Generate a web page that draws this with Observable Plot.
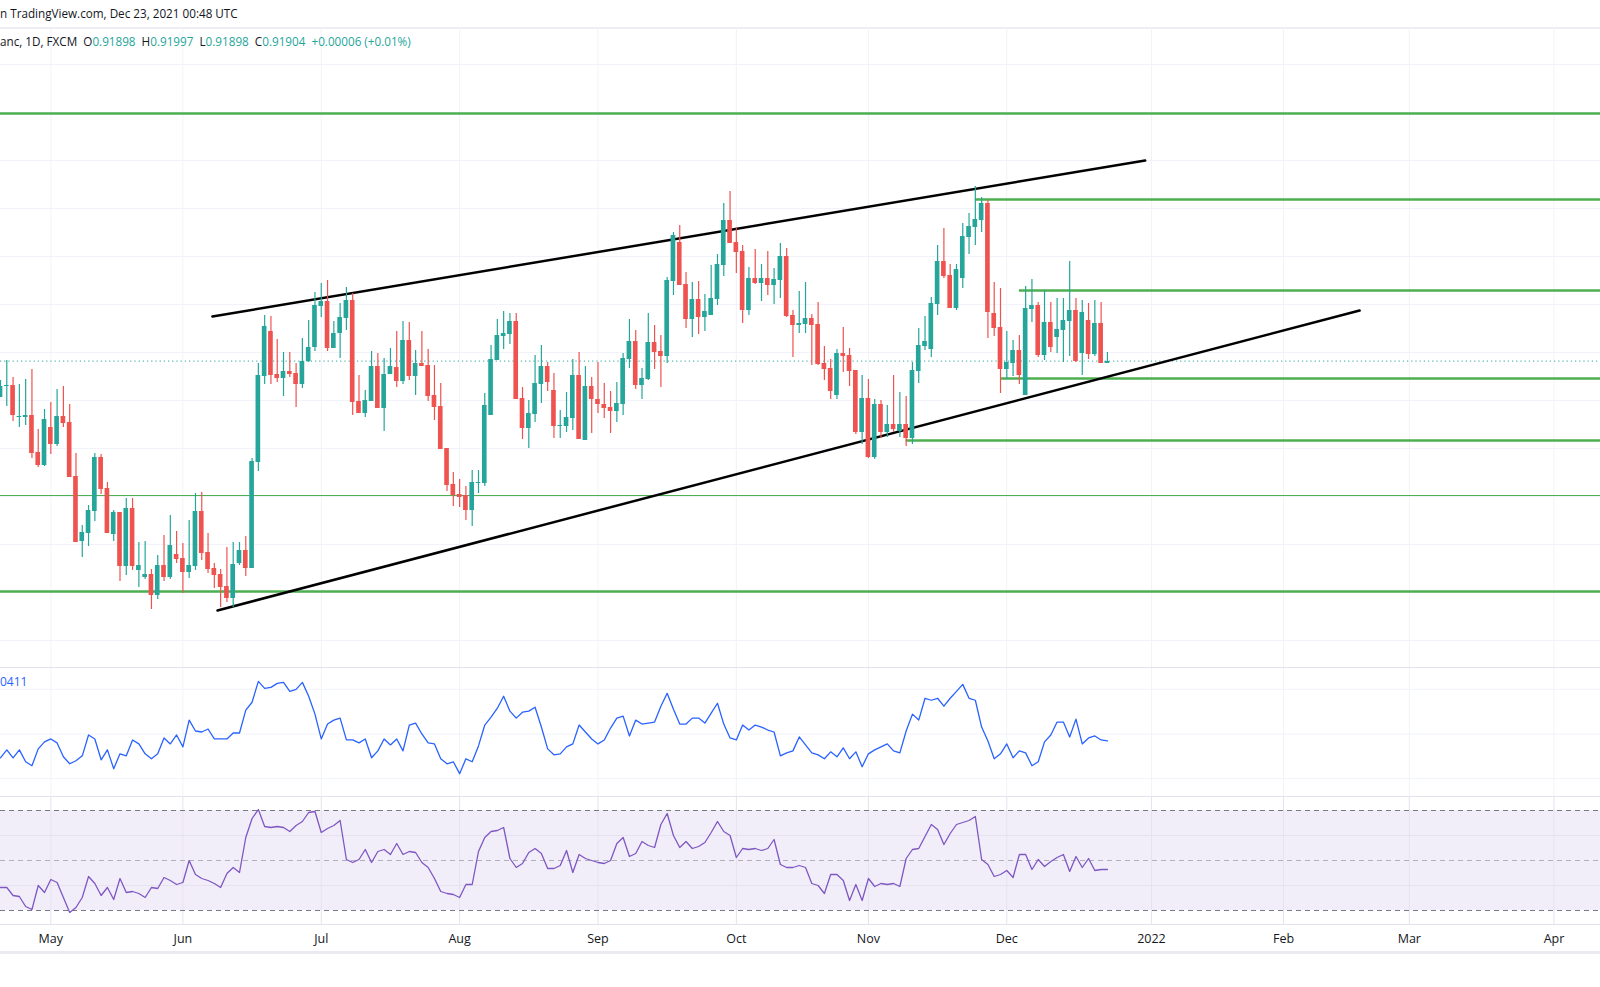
<!DOCTYPE html>
<html>
<head>
<meta charset="utf-8">
<script src="https://cdn.jsdelivr.net/npm/d3@7"></script>
<script src="https://cdn.jsdelivr.net/npm/@observablehq/plot@0.6"></script>
<style>
  body { margin: 0; background: #fff; font-family: "Open Sans", "DejaVu Sans", sans-serif; }
  #wrap { position: relative; width: 1600px; height: 987px; overflow: hidden; }
  .pane { position: absolute; left: 0; }
  .sep { position: absolute; left: 0; width: 1600px; height: 1px; background: #e0e3eb; }
  .hdr { position: absolute; left: 0; white-space: nowrap; font-size: 11.7px; color: #131722; }
  .v { color: #26a69a; }
</style>
</head>
<body>
<div id="wrap">
  <div class="hdr" style="top:5px;">n TradingView.com, Dec 23, 2021 00:48 UTC</div>
  <div class="sep" style="top:27px; height:2px; background:#eceef3"></div>
  <div class="hdr" style="top:33px; z-index:2">anc, 1D, FXCM&nbsp; O<span class="v">0.91898</span>&nbsp; H<span class="v">0.91997</span>&nbsp; L<span class="v">0.91898</span>&nbsp; C<span class="v">0.91904</span>&nbsp; <span class="v">+0.00006 (+0.01%)</span></div>
  <div id="main" class="pane" style="top:28px"></div>
  <div class="sep" style="top:667px"></div>
  <div id="atr" class="pane" style="top:668px"></div>
  <div class="hdr" style="top:673px; color:#2962ff; z-index:2; font-size:12px">0411</div>
  <div class="sep" style="top:796px"></div>
  <div id="rsi" class="pane" style="top:797px"></div>
  <div class="sep" style="top:924px"></div>
  <div id="axis" class="pane" style="top:925px"></div>
  <div class="sep" style="top:951px; height:3px; background:#e9ebf0"></div>
</div>
<script>
// USD/CHF daily, prices in pips (x 1e-4)
const open = [9154,9165,9166,9134,9134,9136,9099,9086,9124,9107, 9135,9129,9075,9010,9018,9040,9094,9063,9017,9039, 8985,9043,8981,8974,8977,8956,8986,8974,8997,8993, 8979,8985,9040,8999,8983,8977,8965,8953,8988,9001, 8983,9089,9175,9220,9177,9173,9180,9178,9167,9190, 9204,9245,9250,9203,9218,9233,9251,9150,9138,9150, 9185,9143,9177,9184,9170,9211,9175,9188,9186,9156, 9145,9103,9067,9057,9056,9041,9068,9068,9136,9191, 9215,9217,9230,9153,9123,9137,9167,9185,9161,9125, 9125,9133,9176,9111,9165,9152,9147,9144,9140,9147, 9192,9210,9166,9172,9209,9200,9195,9270,9309,9267, 9232,9252,9234,9236,9252,9286,9331,9309,9300,9241, 9273,9268,9273,9266,9271,9295,9236,9226,9227,9233, 9227,9188,9183,9156,9198,9196,9181,9119,9153,9094, 9147,9119,9127,9120,9127,9113,9180,9205,9202,9247, 9290,9276,9243,9273,9314,9324,9331,9348,9238,9224, 9182,9188,9201,9156,9242,9246,9196,9229,9214,9221, 9230,9241,9198,9231,9197,9228,9188];
const high = [9171,9191,9174,9167,9172,9182,9122,9142,9149,9162, 9165,9147,9098,9026,9046,9098,9097,9069,9041,9039, 9053,9053,9009,9010,8982,8996,9016,9036,9020,9008, 9031,9058,9059,9018,8988,8982,9004,9009,9009,9015, 9093,9188,9236,9235,9212,9199,9199,9188,9213,9231, 9259,9268,9271,9230,9248,9264,9258,9176,9161,9200, 9198,9193,9203,9220,9230,9229,9201,9220,9202,9186, 9168,9103,9079,9072,9065,9081,9081,9158,9206,9232, 9240,9238,9238,9164,9151,9196,9206,9189,9178,9141, 9159,9192,9199,9185,9174,9189,9168,9160,9169,9198, 9232,9221,9183,9238,9226,9216,9274,9319,9326,9279, 9269,9270,9257,9286,9297,9348,9360,9324,9306,9284, 9302,9287,9300,9283,9308,9303,9241,9260,9269,9237, 9249,9205,9192,9202,9224,9203,9181,9176,9172,9152, 9151,9146,9176,9159,9155,9189,9223,9235,9254,9306, 9323,9287,9287,9328,9338,9365,9354,9351,9269,9263, 9220,9211,9216,9265,9272,9249,9261,9249,9253,9253, 9290,9253,9251,9248,9251,9249,9199];
const low = [9154,9145,9130,9124,9126,9093,9084,9085,9097,9105, 9124,9074,9009,8994,9005,9030,9057,9018,9010,8970, 8976,8981,8964,8972,8942,8952,8970,8972,8988,8958, 8973,8981,8991,8978,8963,8944,8949,8944,8986,8975, 8983,9080,9167,9167,9169,9155,9174,9144,9163,9189, 9200,9234,9200,9203,9193,9221,9136,9138,9134,9150, 9143,9120,9177,9164,9167,9171,9156,9185,9150,9131, 9102,9060,9045,9044,9031,9025,9058,9065,9136,9191, 9202,9207,9152,9112,9103,9129,9148,9160,9113,9113, 9119,9121,9112,9111,9118,9138,9133,9118,9129,9136, 9183,9162,9152,9171,9182,9164,9188,9256,9266,9223, 9214,9217,9220,9236,9246,9275,9308,9278,9228,9236, 9267,9250,9256,9247,9253,9234,9194,9218,9218,9186, 9186,9171,9152,9152,9179,9165,9117,9107,9093,9092, 9113,9114,9119,9114,9105,9107,9168,9201,9194,9236, 9273,9243,9241,9263,9297,9306,9319,9213,9215,9158, 9172,9175,9167,9156,9229,9194,9191,9199,9198,9189, 9195,9189,9176,9192,9195,9188,9188];
const close = [9165,9166,9136,9135,9136,9098,9086,9132,9107,9135, 9128,9074,9009,9019,9041,9094,9062,9018,9039,8985, 9043,8985,8986,8977,8956,8986,8974,9006,8992,8979, 8986,9040,8998,8982,8976,8964,8953,8987,9001,8983, 9090,9176,9225,9176,9173,9180,9177,9167,9190,9204, 9246,9250,9203,9218,9234,9251,9149,9138,9151,9185, 9143,9177,9185,9170,9211,9175,9188,9185,9155,9144, 9102,9066,9056,9054,9041,9069,9069,9146,9192,9216, 9218,9230,9152,9123,9138,9168,9185,9169,9125,9126, 9134,9176,9112,9165,9152,9147,9143,9140,9148,9193, 9210,9166,9173,9209,9199,9195,9271,9316,9266,9232, 9252,9234,9240,9253,9287,9331,9308,9299,9241,9273, 9268,9273,9266,9272,9295,9235,9226,9228,9233,9226, 9187,9182,9160,9198,9195,9180,9119,9153,9094,9147, 9119,9127,9122,9127,9113,9181,9206,9210,9248,9290, 9275,9243,9282,9315,9325,9332,9348,9239,9223,9182, 9189,9201,9176,9243,9246,9196,9229,9204,9222,9231, 9241,9190,9239,9197,9228,9188,9190];

// ATR in units of 1e-5
const atr = [394,402,394,402,390,386,403,410,413,409, 395,388,391,396,417,413,392,402,383,398, 396,412,408,398,393,398,414,408,417,405, 432,421,420,423,413,413,413,419,419,442, 450,471,464,465,469,470,461,463,470,456, 438,413,428,432,434,412,412,409,413,394, 401,413,407,413,401,427,429,418,409,408, 393,388,390,378,393,390,406,427,435,444, 456,441,434,440,441,445,425,403,397, 398,405,408,427,420,413,408,412,424,434, 436,416,432,428,429,430,446,459,443,428, 428,434,434,429,439,449,428,414,412,427, 422,427,425,422,420,396,399,401,415,407, 399,397,393,400,395,404,393,400,385,398, 402,405,408,401,399,421,438,432,454,452, 454,446,454,461,468,454,452,425,411,393, 398,408,394,401,399,386,390,410,417,430, 430,415,433,408,414,416,412,411];

const rsi = [39.2,39.2,36,35.6,31.6,30.4,40,37.2,42.4,41.2, 35.2,29.2,31.2,35.2,43.6,40.8,36,39.2,34.4,42.8, 37.2,37.6,36.8,35.2,39.2,38.8,43.2,42,40.4,41.2, 50,44.4,42.8,42,40.8,39.2,44.8,47.2,45.2,59.2, 66.8,70.4,63.6,63.2,63.6,63.2,61.6,64,65.6,69.2, 69.6,61.2,62.8,64,66,50.4,49.2,50.4,54.4,49.2, 53.6,54.4,52.4,56.8,52.4,53.6,53.2,49.2,47.2,42.8, 37.6,36.8,36.4,35.2,40.4,40.4,53.6,59.2,61.6,62, 63.2,50.8,47.2,48.8,53.2,54.8,52.8,46.8,46.8, 48,54,45.2,52.4,50.8,50,49.2,48.8,50,56.8, 59.2,51.6,52.8,57.6,56,55.2,64.4,68.8,60,55.2, 57.6,54.8,55.6,57.2,61.2,65.6,61.6,60,51.2,54.8, 54.4,54.8,54,54.8,58.4,48.4,47.2,47.2,48,47.2, 40.8,40,36.8,44.4,44.4,42,34,40.4,34,42.8, 39.6,40.8,40.4,40.8,39.6,50.8,54.4,54.8,59.6,64.4, 62.4,56.4,60.8,64.4,65.2,66,67.6,50.4,48.4,43.6, 44.4,46,43.2,52.4,52.4,46.4,50.4,47.6,49.6,51.2, 52.4,45.6,51.6,47.2,50.8,46,46.4,46.4];

// drawn levels (pips) and the bar index they start from
const levelPrices = [9438, 9352, 9261, 9173, 9111, 9056, 8960];
const levelStart  = [0, 155, 162, 159, 144, 0, 0];
// channel lines: [bar index, pips]
const upperLine = [[33.7, 9235], [182, 9391]];
const lowerLine = [[34.5, 8941], [216.1, 9241]];
const priceGrid = [9487,9439,9391,9343,9295,9247,9199,9151,9103,9055,9007,8959,8911];
const atrGrid = [463, 418, 373];
const lastPrice = 0.91904;

const N = open.length;
const XMAX = 254.4;
const GREEN = "#26a69a", RED = "#ef5350";

// trading days starting 2021-04-21, for month ticks
const days = [];
let d = new Date(Date.UTC(2021, 3, 21));
while (days.length < 256) {
  const wd = d.getUTCDay();
  if (wd !== 0 && wd !== 6) days.push(new Date(d));
  d = new Date(d.getTime() + 864e5);
}
const ticks = [];
days.forEach((day, i) => {
  if (i > 0 && day.getUTCMonth() !== days[i - 1].getUTCMonth() && i < XMAX)
    ticks.push({i, label: day.getUTCMonth() === 0 ? String(day.getUTCFullYear()) : d3.utcFormat("%b")(day), year: day.getUTCMonth() === 0});
});
const tickIdx = ticks.map(t => t.i);

const candles = d3.range(N).map(i => {
  const o = open[i] / 1e4, c = close[i] / 1e4;
  let b1 = Math.min(o, c), b2 = Math.max(o, c);
  if (b2 - b1 < 0.00008) { b1 -= 0.00004; b2 += 0.00004; }
  return {i, o, c, h: high[i] / 1e4, l: low[i] / 1e4, b1, b2, up: c >= o};
});
const ups = candles.filter(d => d.up), downs = candles.filter(d => !d.up);
const levels = levelPrices.map((p, k) => ({p: p / 1e4, from: levelStart[k]}));
const trend = [upperLine, lowerLine].map(l => l.map(([i, p]) => ({i, p: p / 1e4})));

const xs = {domain: [0, XMAX], range: [0, 1600], axis: null};

const main = Plot.plot({
  width: 1600, height: 639, margin: 0,
  x: xs,
  y: {domain: [0.8884, 0.9523], axis: null},
  marks: [
    Plot.ruleX(tickIdx, {stroke: "#f0f3fa"}),
    Plot.ruleY(priceGrid.map(p => p / 1e4), {stroke: "#f0f3fa"}),
    Plot.ruleY([lastPrice], {stroke: GREEN, strokeDasharray: "1.2,3", strokeWidth: 1}),
    Plot.ruleY(levels, {y: "p", x1: "from", x2: XMAX, stroke: "#4caf50", strokeWidth: d => d.p === 0.9056 ? 1.2 : 2.5}),
    Plot.line(trend[0], {x: "i", y: "p", stroke: "#000", strokeWidth: 2.5}),
    Plot.line(trend[1], {x: "i", y: "p", stroke: "#000", strokeWidth: 2.5}),
    Plot.ruleX(ups, {x: "i", y1: "l", y2: "h", stroke: GREEN, strokeWidth: 1.2}),
    Plot.ruleX(downs, {x: "i", y1: "l", y2: "h", stroke: RED, strokeWidth: 1.2}),
    Plot.rect(ups, {x1: d => d.i - 0.37, x2: d => d.i + 0.37, y1: "b1", y2: "b2", fill: GREEN}),
    Plot.rect(downs, {x1: d => d.i - 0.37, x2: d => d.i + 0.37, y1: "b1", y2: "b2", fill: RED})
  ]
});
document.getElementById("main").append(main);

const atrPlot = Plot.plot({
  width: 1600, height: 128, margin: 0,
  x: xs,
  y: {domain: [0.00355, 0.00484], axis: null},
  marks: [
    Plot.ruleX(tickIdx, {stroke: "#f0f3fa"}),
    Plot.ruleY(atrGrid.map(v => v / 1e5), {stroke: "#f0f3fa"}),
    Plot.line(atr.map((v, i) => ({i, v: v / 1e5})), {x: "i", y: "v", stroke: "#2962ff", strokeWidth: 1.3})
  ]
});
document.getElementById("atr").append(atrPlot);

const rsiPlot = Plot.plot({
  width: 1600, height: 127, margin: 0,
  x: xs,
  y: {domain: [24.4, 75.2], axis: null},
  marks: [
    Plot.rect([0], {x1: 0, x2: XMAX, y1: 30, y2: 70, fill: "#7e57c2", fillOpacity: 0.1}),
    Plot.ruleX(tickIdx, {stroke: "#e6e2ef"}),
    Plot.ruleY([40, 60], {stroke: "#e6e2ef"}),
    Plot.ruleY([30, 70], {stroke: "#787b86", strokeDasharray: "5,4"}),
    Plot.ruleY([50], {stroke: "#b2afbd", strokeDasharray: "5,4"}),
    Plot.line(rsi.map((v, i) => ({i, v})), {x: "i", y: "v", stroke: "#7e57c2", strokeWidth: 1.3})
  ]
});
document.getElementById("rsi").append(rsiPlot);

const axisPlot = Plot.plot({
  width: 1600, height: 26, margin: 0,
  x: xs,
  y: {domain: [0, 1], axis: null},
  style: {fontFamily: "'Open Sans', sans-serif"},
  marks: [
    Plot.text(ticks, {x: "i", y: 0.5, text: "label", fontSize: 12.5, fill: "#131722",
      fontWeight: d => d.year ? "bold" : "normal"})
  ]
});
document.getElementById("axis").append(axisPlot);
</script>
</body>
</html>
